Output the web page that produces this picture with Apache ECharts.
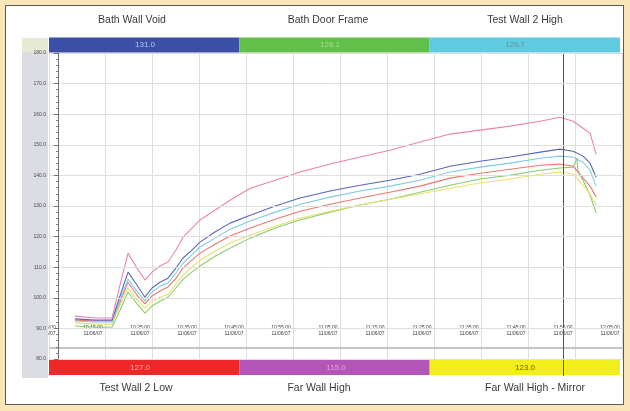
<!DOCTYPE html>
<html><head><meta charset="utf-8">
<script src="https://cdn.jsdelivr.net/npm/echarts@6/dist/echarts.min.js"></script>
<style>
html,body{margin:0;padding:0;background:#fbe6b9;width:630px;height:411px;overflow:hidden;}
#frame{position:absolute;left:5px;top:5px;width:617px;height:398px;border:1px solid #5a5a5a;background:#fff;}
#chart{position:absolute;left:0;top:0;width:630px;height:411px;}
</style></head><body>
<div id="frame"></div><div id="chart"></div>
<script>
// ---- data (minutes from first tick, readings) ----
const times = [3.6, 7.9, 11.5, 13.2, 14.9, 16.8, 18.5, 20.0, 21.7, 23.4, 25.1, 26.6, 28.5, 30.2, 33.4, 36.6, 40.9, 46.2, 51.5, 57.9, 64.3, 70.6, 77.0, 83.4, 89.8, 96.2, 102.6, 106.8, 109.6, 111.7, 113.2, 114.5];
const greenTimes = [3.6, 7.9, 11.5, 13.2, 14.9, 16.8, 18.5, 20.0, 21.7, 23.4, 25.1, 26.6, 28.5, 30.2, 33.4, 36.6, 40.9, 46.2, 51.5, 57.9, 64.3, 70.6, 77.0, 83.4, 89.8, 96.2, 102.6, 106.8, 109.6, 110.4, 110.6, 111.7, 113.2, 114.5];
const farWallHigh = [94.0, 93.4, 93.4, 104.2, 114.6, 109.7, 105.8, 108.4, 110.4, 111.7, 115.6, 119.8, 122.8, 125.4, 128.6, 131.9, 135.8, 138.4, 141.1, 143.7, 146.0, 148.2, 150.9, 153.5, 154.8, 156.1, 157.7, 159.0, 157.7, 155.4, 153.8, 146.9];
const bathWallVoid = [93.1, 92.7, 92.7, 100.6, 108.4, 104.2, 100.2, 103.2, 105.1, 106.4, 109.7, 113.0, 115.6, 118.2, 121.5, 124.4, 127.0, 130.0, 132.6, 134.9, 136.8, 138.4, 140.4, 143.0, 144.6, 146.0, 147.6, 148.6, 147.9, 146.3, 144.0, 139.4];
const testWall2High = [92.4, 92.1, 92.1, 99.3, 106.1, 102.2, 98.9, 101.9, 103.8, 104.8, 108.1, 111.3, 114.0, 116.6, 119.5, 122.4, 125.1, 128.0, 130.6, 132.9, 134.9, 136.5, 138.4, 141.1, 142.7, 144.0, 145.6, 146.3, 146.0, 144.3, 141.7, 136.5];
const testWall2Low = [92.7, 92.4, 92.4, 98.6, 105.1, 100.9, 98.0, 100.6, 102.2, 103.5, 106.4, 109.7, 112.3, 114.6, 117.5, 120.2, 122.8, 125.7, 128.3, 130.6, 132.6, 134.5, 136.5, 139.1, 140.7, 142.0, 143.3, 143.7, 143.0, 139.1, 136.5, 132.9];
const farWallHighMirror = [91.8, 91.4, 91.4, 97.6, 103.2, 99.3, 96.7, 98.9, 100.2, 101.2, 104.5, 107.4, 110.0, 112.3, 115.3, 117.9, 120.5, 123.4, 126.0, 128.3, 130.3, 132.2, 133.9, 135.8, 137.5, 138.8, 140.4, 141.1, 140.4, 136.8, 133.9, 130.3];
const bathDoorFrame = [90.8, 90.4, 90.4, 96.0, 101.9, 98.0, 95.0, 97.3, 98.9, 100.2, 103.2, 106.1, 108.4, 110.4, 113.6, 116.2, 119.5, 122.8, 125.4, 128.0, 130.3, 132.2, 134.5, 136.8, 138.8, 140.1, 141.7, 142.4, 142.7, 145.6, 141.7, 138.4, 133.5, 127.7];
const baseline = 83.6;
const cursorTime = 107.4;

const sensorTop = ['Bath Wall Void', 'Bath Door Frame', 'Test Wall 2 High'];
const readoutsTop = ['131.0', '128.1', '126.7'];
const sensorBottom = ['Test Wall 2 Low', 'Far Wall High', 'Far Wall High - Mirror'];
const readoutsBottom = ['127.0', '115.0', '123.0'];

const tickTimes = ['10:05:00', '10:15:00', '10:25:00', '10:35:00', '10:45:00', '10:55:00', '11:05:00', '11:15:00', '11:25:00', '11:35:00', '11:45:00', '11:55:00', '12:05:00'];
const tickDate = '11/06/07';
const xMin = -1.915, xMax = 120, xStep = 10;
const yMin = 80, yMax = 180, yStep = 10;

// ---- styles / layout ----
const barColTop = ['#3c4fa6', '#62c04a', '#5ecbe0'];
const barTxtTop = ['#b8c4f0', '#a6dc92', '#6f8e9e'];
const barColBot = ['#ee2828', '#b455b8', '#f2ee1c'];
const barTxtBot = ['#f8a4a4', '#dca4dc', '#6e6600'];
const titleTopX = [132, 328, 525];
const titleBotX = [136, 319, 535];
const readTopX = [145, 330, 515];
const readBotX = [140, 336, 525];

const zip = (t, v) => t.map((x, i) => [x, v[i]]);
const mk = (name, t, v, color, extra) => Object.assign({
  name, type: 'line', data: zip(t, v), symbol: 'none', smooth: false,
  lineStyle: { color, width: 1.1 }, itemStyle: { color }, animation: false
}, extra || {});

const chart = echarts.init(document.getElementById('chart'), null, { renderer: 'canvas' });

const L = 49, R = 620, third = (R - L) / 3;
const graphics = [];
graphics.push({ type: 'rect', z: 10, shape: { x: 22, y: 38, width: 26, height: 340 }, style: { fill: '#dcdce3' } });
graphics.push({ type: 'rect', z: 11, shape: { x: 22, y: 38, width: 26, height: 14 }, style: { fill: '#e7ead4' } });
for (let i = 0; i < 3; i++) {
  const x0 = L + third * i;
  graphics.push({ type: 'rect', z: 10, shape: { x: x0, y: 37.5, width: third, height: 15 }, style: { fill: barColTop[i] } });
  graphics.push({ type: 'text', z: 12, x: readTopX[i], y: 45, style: { text: readoutsTop[i], fill: barTxtTop[i], font: '8px "Liberation Sans", Arial', align: 'center', verticalAlign: 'middle' } });
  graphics.push({ type: 'text', z: 12, x: titleTopX[i], y: 20, style: { text: sensorTop[i], fill: '#3a3a3a', font: '10.5px "Liberation Sans", Arial', align: 'center', verticalAlign: 'middle' } });
  graphics.push({ type: 'rect', z: 10, shape: { x: x0, y: 360, width: third, height: 15 }, style: { fill: barColBot[i] } });
  graphics.push({ type: 'text', z: 12, x: readBotX[i], y: 367.5, style: { text: readoutsBottom[i], fill: barTxtBot[i], font: '8px "Liberation Sans", Arial', align: 'center', verticalAlign: 'middle' } });
  graphics.push({ type: 'text', z: 12, x: titleBotX[i], y: 388, style: { text: sensorBottom[i], fill: '#3a3a3a', font: '10.5px "Liberation Sans", Arial', align: 'center', verticalAlign: 'middle' } });
}

const option = {
  animation: false,
  backgroundColor: 'transparent',
  grid: { left: 49, right: 8, top: 53, bottom: 52, containLabel: false, outerBoundsMode: 'none' },
  xAxis: {
    type: 'value', min: xMin, max: xMax, splitNumber: 12, z: 0,
    axisLine: { show: false }, axisTick: { show: false },
    splitLine: { show: true, lineStyle: { color: '#dedede', width: 1 } },
    axisLabel: {
      show: true, margin: -34, fontSize: 5, lineHeight: 6, color: '#3c3c3c',
      fontFamily: 'Liberation Sans', padding: [0, 24, 0, 0], showMinLabel: true, showMaxLabel: true,
      formatter: v => {
        const k = Math.round(v / xStep);
        if (Math.abs(v - k * xStep) > 1e-6 || !tickTimes[k]) return '';
        return tickTimes[k] + '\n' + tickDate;
      }
    }
  },
  yAxis: {
    type: 'value', min: yMin, max: yMax, interval: yStep, z: 20,
    axisLine: { show: true, lineStyle: { color: '#707070', width: 1 } },
    axisTick: { show: true, length: 4, lineStyle: { color: '#707070' } },
    minorTick: { show: true, splitNumber: 5, length: 2, lineStyle: { color: '#808080' } },
    splitLine: { show: true, lineStyle: { color: '#dedede', width: 1 } },
    axisLabel: { fontSize: 5, color: '#4a4a4a', margin: 3, fontFamily: 'Liberation Sans', formatter: v => v.toFixed(1) }
  },
  series: [
    mk('Bath Door Frame', greenTimes, bathDoorFrame, '#8bcf6e', {
      markLine: { silent: true, symbol: 'none', label: { show: false }, lineStyle: { color: '#c6c6c6', width: 2, type: 'solid' }, data: [{ yAxis: baseline }] }
    }),
    mk('Far Wall High - Mirror', times, farWallHighMirror, '#e6e26e'),
    mk('Test Wall 2 Low', times, testWall2Low, '#e97a6e'),
    mk('Test Wall 2 High', times, testWall2High, '#80cbe6'),
    mk('Bath Wall Void', times, bathWallVoid, '#5c66b6'),
    mk('Far Wall High', times, farWallHigh, '#e985ac')
  ],
  graphic: { elements: graphics }
};
chart.setOption(option);
const cx = Math.round(chart.convertToPixel({ xAxisIndex: 0 }, cursorTime)) + 0.5;
graphics.push({ type: 'line', z: 15, shape: { x1: cx, y1: 53, x2: cx, y2: 376 }, style: { stroke: '#555', lineWidth: 1 } });
chart.setOption({ graphic: { elements: graphics } }, { replaceMerge: ['graphic'] });
</script></body></html>
